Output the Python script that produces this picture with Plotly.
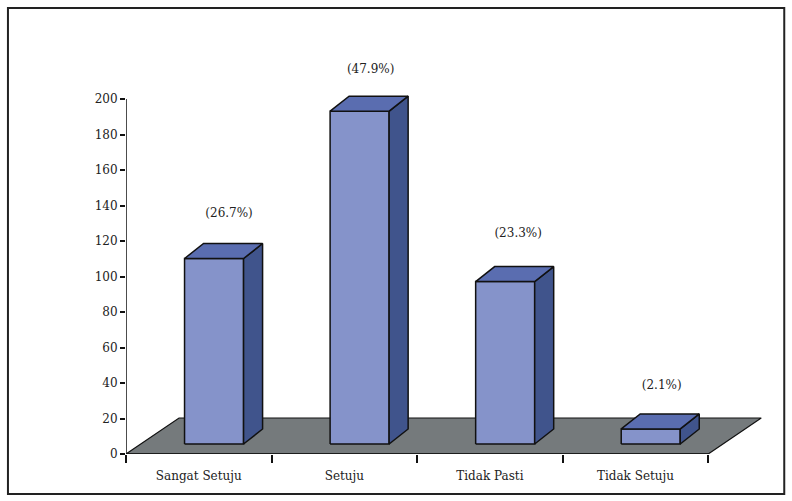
import plotly.graph_objects as go

categories = ["Sangat Setuju", "Setuju", "Tidak Pasti", "Tidak Setuju"]
values = [104.5, 187.5, 91.5, 8.5]
labels = ["(26.7%)", "(47.9%)", "(23.3%)", "(2.1%)"]
y_ticks = list(range(0, 201, 20))

FRONT, TOP, SIDE, FLOOR = "#8593CA", "#5A6DB0", "#40548C", "#757A7C"
FONT = "DejaVu Serif"
W, H = 792, 501
L, R, T, B = 126, 708, 99, 454
x_unit = (R - L) / 4
y_unit = (B - T) / 200
x_max, y_max = 4.5, 240                # room for the floor and labels
dx, dy = 19 / x_unit, 15 / y_unit      # bar depth
base = 10 / y_unit                     # bars stand on the floor
bar_w = 59 / x_unit
shift = 0.105
fdx, fdy = 53 / x_unit, 36 / y_unit    # floor depth
label_off = [0, -4, 3, -2]
label_dx = [15, 11, 13, 11]

fig = go.Figure()


def poly(xs, ys, fill, lw=1.5):
    fig.add_trace(go.Scatter(
        x=xs + xs[:1], y=ys + ys[:1], mode="lines", fill="toself", fillcolor=fill,
        line=dict(color="#111111", width=lw), hoverinfo="skip", showlegend=False,
        cliponaxis=False))


n = len(categories)
poly([0, fdx, n + fdx, n], [0, fdy, fdy, 0], FLOOR, 1.2)

for i, v in enumerate(values):
    x0 = i + 0.5 + shift - bar_w / 2
    x1 = x0 + bar_w
    y1 = base + v
    poly([x0, x1, x1, x0], [base, base, y1, y1], FRONT)
    poly([x1, x1 + dx, x1 + dx, x1], [base, base + dy, y1 + dy, y1], SIDE)
    poly([x0, x1, x1 + dx, x0 + dx], [y1, y1, y1 + dy, y1 + dy], TOP)

# axis lines stop at the last category and at 200
for xs, ys in (([0, n], [0, 0]), ([0, 0], [0, y_ticks[-1]])):
    fig.add_trace(go.Scatter(x=xs, y=ys, mode="lines", line=dict(color="#111111", width=1.5),
                             hoverinfo="skip", showlegend=False, cliponaxis=False))

fig.add_trace(go.Scatter(
    x=[i + 0.5 + shift + label_dx[i] / x_unit for i in range(n)],
    y=[values[i] + base + dy + (30 + label_off[i]) / y_unit for i in range(n)],
    mode="text", text=labels, textposition="middle center",
    textfont=dict(family=FONT, size=12, color="#222222"),
    hoverinfo="skip", showlegend=False, cliponaxis=False))

fig.update_layout(
    width=W, height=H, autosize=False, paper_bgcolor="white", plot_bgcolor="rgba(0,0,0,0)",
    margin=dict(l=L, r=W - (L + x_max * x_unit), t=B - y_max * y_unit, b=H - B, pad=0),
    font=dict(family=FONT, size=12, color="#222222"),
    xaxis=dict(range=[0, x_max], showgrid=False, zeroline=False, showline=False,
               tickvals=[i + 0.5 for i in range(n)], ticktext=categories, ticks="",
               ticklabelstandoff=13, fixedrange=True,
               minor=dict(tickvals=list(range(n + 1)), ticks="outside", ticklen=8,
                          tickcolor="#111111", tickwidth=1.5, showgrid=False)),
    yaxis=dict(range=[0, y_max], showgrid=False, zeroline=False, showline=False,
               tickvals=y_ticks, ticks="outside", ticklen=5, tickcolor="#111111",
               tickwidth=1.5, fixedrange=True),
    shapes=[dict(type="rect", xref="paper", yref="paper",
                 x0=(8 - L) / (x_max * x_unit), x1=(784 - L) / (x_max * x_unit),
                 y0=(B - 494) / (y_max * y_unit), y1=(B - 8) / (y_max * y_unit),
                 line=dict(color="#222222", width=2), fillcolor="rgba(0,0,0,0)", layer="below")],
)
fig.write_html("out.html", config={"displayModeBar": False},
               post_script="document.body.style.margin='0';")
